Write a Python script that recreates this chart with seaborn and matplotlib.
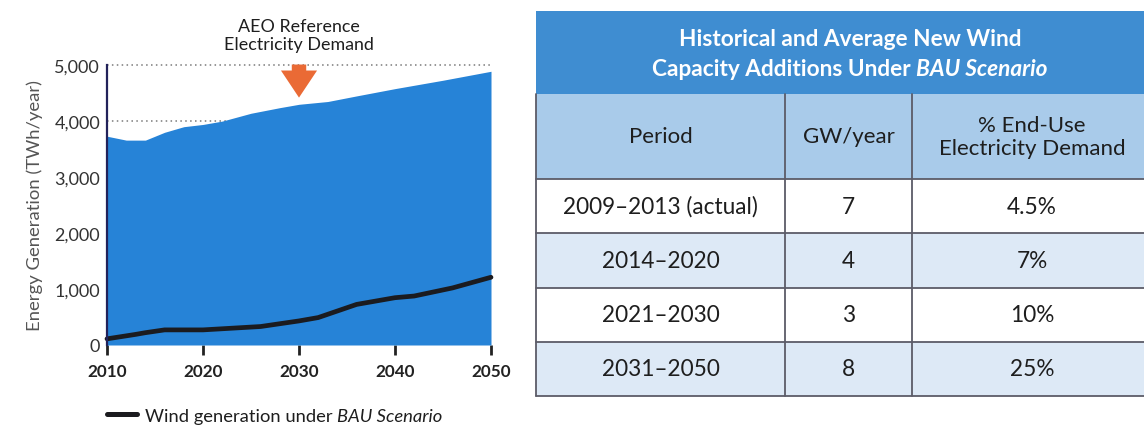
import matplotlib
matplotlib.use("Agg")
import matplotlib.pyplot as plt
from matplotlib.patches import Rectangle
from matplotlib.lines import Line2D
import seaborn as sns

# ---- data -------------------------------------------------------------
demand_years = [2010, 2012, 2014, 2016, 2018, 2020, 2022, 2025, 2028, 2030,
                2033, 2036, 2040, 2045, 2050]
demand_twh = [3730, 3660, 3660, 3800, 3900, 3940, 4000, 4140, 4240, 4300,
              4350, 4450, 4580, 4730, 4890]

wind_years = [2010, 2013, 2014, 2016, 2020, 2023, 2026, 2030, 2032, 2036,
              2040, 2042, 2046, 2050]
wind_twh = [110, 190, 220, 270, 270, 300, 330, 430, 490, 725,
            845, 875, 1020, 1210]

x_ticks = [2010, 2020, 2030, 2040, 2050]
y_ticks = [0, 1000, 2000, 3000, 4000, 5000]
y_tick_labels = ["0", "1,000", "2,000", "3,000", "4,000", "5,000"]
arrow_year = 2030

table_title = [
    [("Historical and Average New Wind", {})],
    [("Capacity Additions Under", {}), ("BAU Scenario", {"style": "italic"})],
]
col_headers = ["Period", "GW/year", "% End-Use\nElectricity Demand"]
periods = ["2009\u20132013 (actual)", "2014\u20132020", "2021\u20132030", "2031\u20132050"]
gw_per_year = ["7", "4", "3", "8"]
pct_demand = ["4.5%", "7%", "10%", "25%"]

# ---- style --------------------------------------------------------------
sns.set_theme(style="white")
plt.rcParams["font.family"] = ["Lato", "DejaVu Sans"]

W, H = 1144, 427
fig = plt.figure(figsize=(W / 100, H / 100), dpi=100)
fig.patch.set_facecolor("white")

AREA = "#2683d7"
TEXT = "#1e1e1e"

# ---- area chart ---------------------------------------------------------
ax = fig.add_axes([107 / W, (H - 346) / H, (491 - 107) / W, (346 - 65) / H])
ax.set_facecolor("none")
ax.fill_between(demand_years, demand_twh, 0, color=AREA, lw=0, zorder=2)
sns.lineplot(x=wind_years, y=wind_twh, ax=ax, color="#1b1b1f", lw=3.4,
             zorder=3, legend=False, clip_on=False)

ax.set_xlim(2010, 2050)
ax.set_ylim(0, 5020)
ax.set_xticks(x_ticks)
ax.set_xticklabels([str(y) for y in x_ticks], fontweight="bold",
                   fontsize=12.3, color="#222222")
ax.set_yticks(y_ticks)
ax.set_yticklabels(y_tick_labels, fontsize=13, color="#333333")
ax.tick_params(axis="x", length=7, width=2, color="#222222", pad=6,
               direction="out", bottom=True)
ax.tick_params(axis="y", length=0, pad=5)
ax.yaxis.grid(True, linestyle=(0, (1, 2.2)), color="#7a7a7a", lw=1.1, zorder=1)
ax.set_axisbelow(True)
for side in ("top", "right", "bottom"):
    ax.spines[side].set_visible(False)
ax.spines["left"].set_color("#22225a")
ax.spines["left"].set_linewidth(1.6)
ax.spines["left"].set_bounds(0, 5000)
ax.spines["left"].set_zorder(4)
ax.set_ylabel("Energy Generation (TWh/year)", fontsize=13.3, color="#555555",
              labelpad=8)

# annotation arrow pointing at the reference demand curve
ax.annotate("", xy=(arrow_year, 4370), xytext=(arrow_year, 5060),
            arrowprops=dict(arrowstyle="simple,head_width=1.0,head_length=0.75,tail_width=0.4",
                            color="#ea6a35", lw=0, mutation_scale=26),
            zorder=5, annotation_clip=False)
ax.text(arrow_year, 5540, "AEO Reference\nElectricity Demand", ha="center",
        va="center", fontsize=12.9, color=TEXT, linespacing=1.2, clip_on=False)

# ---- helper for mixed-style centred text in figure pixel coords ----------
renderer = fig.canvas.get_renderer()


def rich_text(x_px, y_px, parts, ha="center", fontsize=12, gap_em=0.25, **common):
    arts = []
    for s, kw in parts:
        t = fig.text(0, 0, s, ha="left", va="center", fontsize=fontsize, **common, **kw)
        arts.append(t)
    widths = [t.get_window_extent(renderer).width for t in arts]
    gap = gap_em * fontsize * 100 / 72
    total = sum(widths) + gap * (len(arts) - 1)
    x = x_px - total / 2 if ha == "center" else x_px
    for t, w in zip(arts, widths):
        t.set_position((x / W, 1 - y_px / H))
        x += w + gap
    return arts


# legend below the chart
fig.add_artist(Line2D([107 / W, 137 / W], [1 - 415 / H] * 2, color="#1b1b1f",
                      lw=3.6, solid_capstyle="round"))
rich_text(145, 417, [("Wind generation under", {}),
                     ("BAU Scenario", {"style": "italic"})],
          ha="left", fontsize=13.2, color=TEXT)

# ---- table --------------------------------------------------------------
T_LEFT, T_RIGHT = 536, 1152
T_TOP, TITLE_BOT, HEAD_BOT, T_BOT = 11.7, 95, 180, 397
col_edges = [T_LEFT, 785, 912, T_RIGHT]
n_rows = len(periods)
row_h = (T_BOT - HEAD_BOT) / n_rows
row_edges = [HEAD_BOT + i * row_h for i in range(n_rows + 1)]

tax = fig.add_axes([0, 0, 1, 1])
tax.set_xlim(0, W)
tax.set_ylim(H, 0)
tax.axis("off")

TITLE_BG = "#3f8dd1"
HEAD_BG = "#a9cbea"
ALT_BG = "#dde9f6"
BORDER = "#5c5c68"

tax.add_patch(Rectangle((T_LEFT, T_TOP), T_RIGHT - T_LEFT, TITLE_BOT - T_TOP,
                        color=TITLE_BG, lw=0))
tax.add_patch(Rectangle((T_LEFT, TITLE_BOT), T_RIGHT - T_LEFT, HEAD_BOT - TITLE_BOT,
                        color=HEAD_BG, lw=0))
for i in range(n_rows):
    bg = "white" if i % 2 == 0 else ALT_BG
    tax.add_patch(Rectangle((T_LEFT, row_edges[i]), T_RIGHT - T_LEFT, row_h,
                            color=bg, lw=0))

# grid lines
for y in row_edges:
    tax.plot([T_LEFT, T_RIGHT], [y, y], color=BORDER, lw=1.3)
for x in col_edges[1:-1]:
    tax.plot([x, x], [TITLE_BOT, T_BOT], color=BORDER, lw=1.3)
tax.plot([T_LEFT, T_LEFT], [TITLE_BOT, T_BOT], color=BORDER, lw=1.3)

# title
title_center = 850
for line, y in zip(table_title, [40, 69]):
    rich_text(title_center, y, [(s, dict(kw, fontweight="bold")) for s, kw in line],
              fontsize=16.3, color="white", gap_em=0.22)

# column headers and body
centers = [(col_edges[i] + col_edges[i + 1]) / 2 for i in range(3)]
head_mid = (TITLE_BOT + HEAD_BOT) / 2
for cx, label in zip(centers, col_headers):
    tax.text(cx, head_mid, label, ha="center", va="center", fontsize=16,
             color=TEXT, linespacing=1.2)
for i in range(n_rows):
    cy = (row_edges[i] + row_edges[i + 1]) / 2
    for cx, val in zip(centers, [periods[i], gw_per_year[i], pct_demand[i]]):
        tax.text(cx, cy, val, ha="center", va="center", fontsize=16.3, color=TEXT)

fig.savefig("out.png", dpi=100)
